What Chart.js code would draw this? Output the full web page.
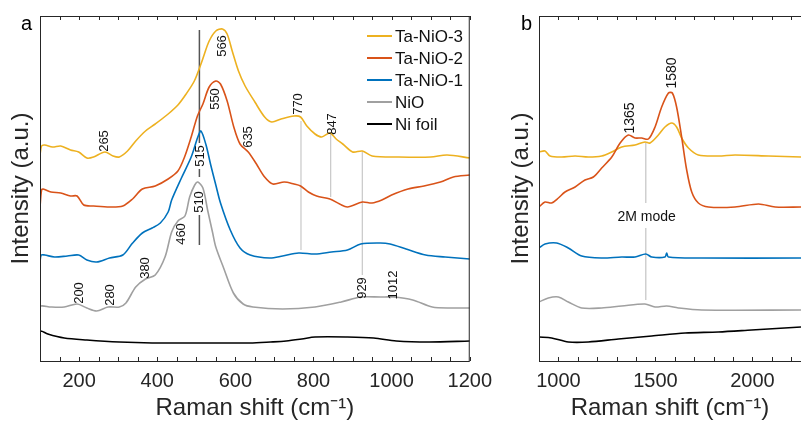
<!DOCTYPE html>
<html>
<head>
<meta charset="utf-8">
<script src="https://cdn.jsdelivr.net/npm/chart.js@4.4.1/dist/chart.umd.min.js"></script>
<style>
  body { margin: 0; background: #fff; }
  #lienzo { position: relative; width: 801px; height: 429px; }
  canvas { position: absolute; top: 0; }
</style>
</head>
<body>
<div id="lienzo">
  <canvas id="graficaA" width="500" height="429" style="left:0"></canvas>
  <canvas id="graficaB" width="301" height="429" style="left:500px"></canvas>
</div>
<script>
const nombres = ['Ta-NiO-3', 'Ta-NiO-2', 'Ta-NiO-1', 'NiO', 'Ni foil'];
const colores = ['#EDB120', '#D95319', '#0072BD', '#A0A0A0', '#000000'];

// Panel a (100 - 1200 cm-1), intensidades en unidades arbitrarias
const aTa3X = [100,104,112,132,153,178,199,220,237,266,287,303,324,345,370,395,428,453,474,495,512,520,533,550,567,579,592,608,625,650,675,693,717,750,767,783,804,821,842,858,875,900,925,950,1017,1100,1142,1200];
const aTa3Y = [206,215,216,214,215,211,209,203,204,209,205,204,210,220,230,237,247,256,267,280,297,306,320,330,332,327,310,290,275,259,244,239,242,245,244,235,227,224,228,222,217,209,210,205,204,204,206,203];
const aTa2X = [100,104,108,128,153,178,195,212,237,278,312,337,362,395,428,453,470,487,503,517,533,550,562,579,596,612,633,654,675,696,725,750,767,787,808,842,867,887,925,950,975,1000,1042,1083,1125,1158,1200];
const aTa2Y = [154,171,172,169,168,165,165,156,155,154,155,162,172,175,182,190,204,224,245,257,274,280,277,260,234,217,209,197,184,177,179,177,175,169,165,162,157,154,159,158,161,166,172,175,179,184,186];
const aTa1X = [100,103,112,137,170,199,220,245,278,312,337,362,387,408,428,437,462,487,504,512,525,537,550,562,587,612,638,688,721,762,804,846,887,921,971,996,1037,1087,1137,1200];
const aTa1Y = [99,106,106,104,105,106,101,99,103,106,118,128,133,138,149,161,183,204,224,230,216,196,176,158,131,113,106,103,105,108,107,109,111,117,118,117,112,106,104,102];
const aNiOX = [100,102,128,162,195,220,245,274,303,320,345,370,395,420,437,453,471,483,496,504,517,529,542,550,570,595,620,645,721,804,871,921,971,1004,1054,1104,1154,1200];
const aNiOY = [51,55,54,54,57,53,50,54,54,58,74,82,86,104,129,140,145,164,176,179,173,151,128,114,93,68,57,54,52,54,59,64,64,64,61,54,53,53];
const aNiX = [100,102,120,162,220,303,387,470,553,637,690,730,770,804,887,954,1012,1096,1200];
const aNiY = [27,30,27,23,21,19,18,18,18,18,19,20,22,24,24,23,20,19,20];

// Panel b (900 - 2250 cm-1)
const bTa3X = [900,931,957,1017,1086,1154,1223,1275,1326,1395,1446,1472,1515,1549,1584,1609,1635,1670,1721,1824,1910,2082,2250];
const bTa3Y = [209,210,205,204,205,204,205,209,214,216,219,218,226,234,238,234,223,213,206,205,206,205,204];
const bTa2X = [900,931,965,1000,1034,1086,1137,1180,1223,1275,1318,1360,1395,1429,1464,1498,1532,1567,1587,1609,1635,1661,1687,1721,1773,1910,2031,2117,2250];
const bTa2Y = [154,159,158,163,169,174,181,184,193,204,218,226,223,223,222,234,254,268,268,254,224,191,169,158,154,154,157,154,154];
const bTa1X = [900,931,991,1051,1120,1223,1326,1395,1450,1481,1549,1558,1567,1738,2250];
const bTa1Y = [113,117,118,113,105,103,104,104,107,104,104,108,104,103,103];
const bNiOX = [900,948,1000,1051,1120,1223,1326,1446,1498,1558,1618,1738,2250];
const bNiOY = [59,63,64,59,53,53,55,57,54,55,53,51,51];
const bNiX = [900,965,1051,1154,1309,1481,1653,1824,1996,2250];
const bNiY = [24,23,19,19,22,25,28,29,31,34];

const ticksA = [200, 400, 600, 800, 1000, 1200];
const ticksB = [1000, 1500, 2000];

// picos anotados: texto, posicion x y altura
const picosA = ['265','566','550','635','770','847','515','510','460','380','200','280','929','1012'];
const picosAX = [266,567,550,633,762,848,510,507,462,370,202,280,925,1004];
const picosAY = [220,315,262,224,257,237,205,159,127,93,68,66,73,76];
const picosB = ['1365','1580'];
const picosBX = [1369,1584];
const picosBY = [243,288];

// lineas verticales: x, desde, hasta
const lineasAX = [768, 844, 925];
const lineasADesde = [111, 164, 86];
const lineasAHasta = [240, 227, 209];
const lineaOscuraX = 508;
const lineaOscuraDesde = [218, 184, 116];
const lineaOscuraHasta = [331, 192, 146];
const lineasBX = [1450, 1450];
const lineasBDesde = [158, 61];
const lineasBHasta = [218, 133];

Chart.defaults.font.family = '"Liberation Sans", Arial, Helvetica, sans-serif';
Chart.defaults.color = '#1a1a1a';

function serie(xs, ys) {
    return xs.map((x, i) => ({ x: x, y: ys[i] }));
}

function datasets(pares) {
    return pares.map((p, i) => ({
        label: nombres[i],
        data: serie(p[0], p[1]),
        borderColor: colores[i],
        backgroundColor: colores[i],
        borderWidth: 1.6,
        pointRadius: 0,
        tension: 0.3,
        order: i === 1 ? 0 : i + 1
    }));
}

// marco con ticks hacia dentro
const marco = {
    id: 'marco',
    afterDraw(chart, args, o) {
        const { ctx, chartArea: ca, scales: { x } } = chart;
        ctx.save();
        ctx.strokeStyle = '#262626';
        ctx.lineWidth = 1;
        ctx.beginPath();
        ctx.moveTo(ca.left + 0.5, ca.top + 0.5);
        ctx.lineTo(ca.left + 0.5, ca.bottom + 0.5);
        ctx.moveTo(ca.left, ca.top + 0.5);
        ctx.lineTo(ca.right, ca.top + 0.5);
        ctx.moveTo(ca.left, ca.bottom + 0.5);
        ctx.lineTo(ca.right, ca.bottom + 0.5);
        if (o.derecha) {
            ctx.moveTo(ca.right - 0.5, ca.top);
            ctx.lineTo(ca.right - 0.5, ca.bottom);
        }
        for (let v = o.desde; v <= x.max; v += o.paso) {
            const px = Math.round(x.getPixelForValue(v)) + 0.5;
            ctx.moveTo(px, ca.bottom);
            ctx.lineTo(px, ca.bottom - 4);
            ctx.moveTo(px, ca.top);
            ctx.lineTo(px, ca.top + 4);
        }
        ctx.stroke();
        ctx.font = '20px "Liberation Sans", Arial, sans-serif';
        ctx.fillStyle = '#000';
        ctx.textBaseline = 'alphabetic';
        ctx.fillText(o.letra, o.letraX, 30);
        ctx.restore();
    }
};

// lineas guia y textos de los picos
const anotaciones = {
    id: 'anotaciones',
    beforeDatasetsDraw(chart, args, o) {
        const { ctx, scales: { x, y } } = chart;
        ctx.save();
        o.lineas.forEach(l => {
            ctx.strokeStyle = l.color;
            ctx.lineWidth = l.ancho;
            ctx.beginPath();
            const px = x.getPixelForValue(l.x);
            ctx.moveTo(px, y.getPixelForValue(l.desde));
            ctx.lineTo(px, y.getPixelForValue(l.hasta));
            ctx.stroke();
        });
        ctx.restore();
    },
    afterDatasetsDraw(chart, args, o) {
        const { ctx, scales: { x, y } } = chart;
        ctx.save();
        ctx.fillStyle = '#111';
        ctx.font = o.fuente + 'px "Liberation Sans", Arial, sans-serif';
        ctx.textAlign = 'center';
        ctx.textBaseline = 'middle';
        o.textos.forEach(t => {
            ctx.save();
            ctx.translate(x.getPixelForValue(t.x), y.getPixelForValue(t.y));
            if (!t.horizontal) ctx.rotate(-Math.PI / 2);
            ctx.fillText(t.texto, 0, 0);
            ctx.restore();
        });
        ctx.restore();
    }
};

// leyenda dibujada dentro del area
const leyenda = {
    id: 'leyenda',
    afterDraw(chart, args, o) {
        if (!o.mostrar) return;
        const ctx = chart.ctx;
        ctx.save();
        ctx.font = '17px "Liberation Sans", Arial, sans-serif';
        ctx.textBaseline = 'middle';
        ctx.fillStyle = '#111';
        chart.data.datasets.forEach((d, i) => {
            const yy = 36 + i * 22;
            ctx.strokeStyle = d.borderColor;
            ctx.lineWidth = 2;
            ctx.beginPath();
            ctx.moveTo(367, yy);
            ctx.lineTo(392, yy);
            ctx.stroke();
            ctx.fillText(d.label, 395, yy + 1);
        });
        ctx.restore();
    }
};

function crearPanel(id, pares, cfg) {
    const ctx = document.getElementById(id).getContext('2d');
    return new Chart(ctx, {
        type: 'line',
        data: { datasets: datasets(pares) },
        options: {
            responsive: false,
            animation: false,
            devicePixelRatio: 1,
            layout: { padding: { left: 0, top: 16, right: cfg.derecha, bottom: 0 } },
            scales: {
                x: {
                    type: 'linear',
                    min: cfg.min,
                    max: cfg.max,
                    afterBuildTicks: s => { s.ticks = cfg.ticks.map(v => ({ value: v })); },
                    afterFit: s => { s.height = 68; },
                    grid: { display: false, drawTicks: false },
                    border: { display: false },
                    ticks: {
                        font: { size: 20 },
                        color: '#262626',
                        padding: 8,
                        maxRotation: 0,
                        autoSkip: false,
                        callback: v => String(v)
                    },
                    title: {
                        display: true,
                        text: 'Raman shift (cm\u207B\u00B9)',
                        font: { size: 24 },
                        color: '#262626',
                        padding: { top: 0, bottom: 6 }
                    }
                },
                y: {
                    min: 0,
                    max: 345,
                    afterFit: s => { s.width = cfg.ancho; },
                    grid: { display: false, drawTicks: false },
                    border: { display: false },
                    ticks: { display: false },
                    title: {
                        display: true,
                        text: 'Intensity (a.u.)',
                        font: { size: 24 },
                        color: '#262626',
                        padding: { top: 7, bottom: 0 }
                    }
                }
            },
            plugins: {
                legend: { display: false },
                tooltip: { enabled: false },
                marco: { desde: cfg.desde, paso: cfg.paso, derecha: cfg.bordeDerecho, letra: cfg.letra, letraX: cfg.letraX },
                anotaciones: { lineas: cfg.lineas, textos: cfg.textos, fuente: cfg.fuente },
                leyenda: { mostrar: cfg.leyenda }
            }
        },
        plugins: [marco, anotaciones, leyenda]
    });
}

const lineasA = lineasAX.map((x, i) => ({ x: x, desde: lineasADesde[i], hasta: lineasAHasta[i], color: '#c8c8c8', ancho: 1.2 }))
    .concat(lineaOscuraDesde.map((d, i) => ({ x: lineaOscuraX, desde: d, hasta: lineaOscuraHasta[i], color: '#555555', ancho: 1.5 })));
const textosA = picosA.map((t, i) => ({ texto: t, x: picosAX[i], y: picosAY[i] }));

const lineasB = lineasBX.map((x, i) => ({ x: x, desde: lineasBDesde[i], hasta: lineasBHasta[i], color: '#cfcfcf', ancho: 1.5 }));
const textosB = picosB.map((t, i) => ({ texto: t, x: picosBX[i], y: picosBY[i] }))
    .concat([{ texto: '2M mode', x: 1455, y: 144, horizontal: true }]);

crearPanel('graficaA',
    [[aTa3X, aTa3Y], [aTa2X, aTa2Y], [aTa1X, aTa1Y], [aNiOX, aNiOY], [aNiX, aNiY]],
    { min: 100, max: 1200, ticks: ticksA, derecha: 22, ancho: 40, desde: 100, paso: 50,
      bordeDerecho: true, letra: 'a', letraX: 21, lineas: lineasA, textos: textosA, fuente: 13, leyenda: true });

crearPanel('graficaB',
    [[bTa3X, bTa3Y], [bTa2X, bTa2Y], [bTa1X, bTa1Y], [bNiOX, bNiOY], [bNiX, bNiY]],
    { min: 900, max: 2250, ticks: ticksB, derecha: 0, ancho: 39, desde: 900, paso: 100,
      bordeDerecho: false, letra: 'b', letraX: 21, lineas: lineasB, textos: textosB, fuente: 14, leyenda: false });
</script>
</body>
</html>
